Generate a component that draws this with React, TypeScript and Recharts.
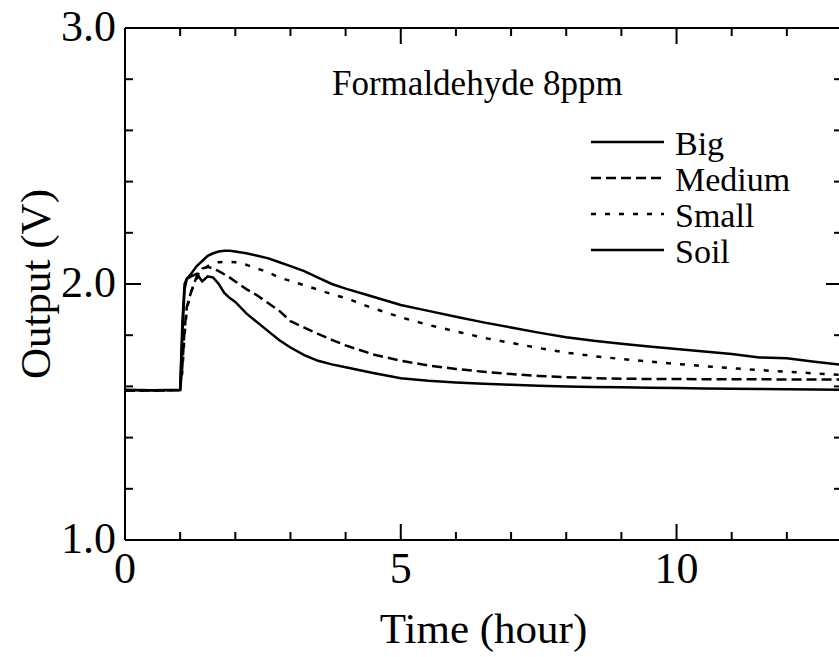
import React from "react";
import { LineChart, Line, XAxis, YAxis, Label, ReferenceLine } from "recharts";

// time in hours, output in volts
const TIME = [
  0, 0.5, 1.0, 1.04, 1.08, 1.12, 1.2, 1.3, 1.4, 1.5, 1.6, 1.7, 1.8, 1.9, 2.0,
  2.2, 2.4, 2.6, 2.8, 3.0, 3.25, 3.5, 3.75, 4.0, 4.5, 5, 5.5, 6, 6.5, 7, 7.5, 8,
  8.5, 9, 9.5, 10, 10.5, 11, 11.5, 12, 12.5, 13,
];
const BIG = [
  1.586, 1.585, 1.587, 1.8, 1.98, 2.02, 2.04, 2.07, 2.09, 2.11, 2.12, 2.127,
  2.13, 2.13, 2.127, 2.12, 2.11, 2.1, 2.085, 2.07, 2.05, 2.025, 2.0, 1.982,
  1.95, 1.918, 1.895, 1.872, 1.85, 1.83, 1.81, 1.792, 1.778, 1.767, 1.756,
  1.746, 1.736, 1.727, 1.713, 1.71, 1.696, 1.684,
];
const MEDIUM = [
  1.583, 1.584, 1.585, 1.68, 1.82, 1.91, 1.97, 2.03, 2.06, 2.067, 2.06, 2.05,
  2.038, 2.025, 2.01, 1.98, 1.955, 1.925, 1.895, 1.855, 1.83, 1.805, 1.782,
  1.76, 1.725, 1.7, 1.682, 1.668, 1.657, 1.648, 1.641, 1.636, 1.632, 1.63,
  1.629, 1.629, 1.628, 1.628, 1.628, 1.627, 1.627, 1.627,
];
const SMALL = [
  1.583, 1.584, 1.585, 1.66, 1.8, 1.9, 1.97, 2.02, 2.05, 2.07, 2.08, 2.085,
  2.087, 2.087, 2.085, 2.075, 2.06, 2.045, 2.025, 2.012, 1.995, 1.978, 1.96,
  1.945, 1.905, 1.87, 1.84, 1.815, 1.79, 1.77, 1.75, 1.732, 1.718, 1.707,
  1.697, 1.688, 1.679, 1.671, 1.664, 1.657, 1.651, 1.645,
];
const SOIL = [
  1.586, 1.585, 1.586, 1.85, 2.0, 2.02, 2.03, 2.04, 2.01, 2.03, 2.025, 2.0,
  1.965, 1.945, 1.93, 1.885, 1.85, 1.815, 1.78, 1.752, 1.722, 1.7, 1.686,
  1.675, 1.652, 1.632, 1.622, 1.615, 1.61, 1.606, 1.603, 1.6, 1.598, 1.597,
  1.595, 1.594, 1.592, 1.591, 1.59, 1.589, 1.588, 1.587,
];

const X_TICKS = [0, 1, 2, 3, 4, 5, 6, 7, 8, 9, 10, 11, 12, 13];
const Y_TICKS = [1, 1.2, 1.4, 1.6, 1.8, 2, 2.2, 2.4, 2.6, 2.8, 3];

const SERIES = [
  { key: "big", name: "Big", dash: undefined },
  { key: "medium", name: "Medium", dash: "10 5" },
  { key: "small", name: "Small", dash: "5 9" },
  { key: "soil", name: "Soil", dash: undefined },
];

const data = TIME.map((t, i) => ({
  t,
  big: BIG[i],
  medium: MEDIUM[i],
  small: SMALL[i],
  soil: SOIL[i],
}));

// plot box: chart 843x657, margin top 28, x axis 117 high, y axis 125 wide, right axis 1 wide
const PLOT_H = 512;
const PLOT_RIGHT = 842;
const Y_MAX = 3;

const FONT = "'Liberation Serif', 'Times New Roman', Times, serif";
const txt = (size: number) => ({ fontFamily: FONT, fontSize: size });
const isMajor = (v: number) => Math.abs(v - Math.round(v)) < 1e-6;

// bottom tick also draws the mirrored tick on the top frame
const BottomTick = ({ x, y, payload }: any) => {
  const major = payload.value % 5 === 0;
  const len = major ? 16 : 8;
  return (
    <g>
      <line x1={x} x2={x} y1={y} y2={y - len} stroke="#000" strokeWidth={2} />
      <line x1={x} x2={x} y1={y - PLOT_H} y2={y - PLOT_H + len} stroke="#000" strokeWidth={2} />
      {major && (
        <text x={x} y={y + 43} textAnchor="middle" style={txt(44)} fill="#000">
          {payload.value}
        </text>
      )}
    </g>
  );
};

// left tick also draws the mirrored tick on the right frame
const LeftTick = ({ x, y, payload }: any) => {
  const major = isMajor(payload.value);
  const len = major ? 16 : 8;
  return (
    <g>
      <line x1={x} x2={x + len} y1={y} y2={y} stroke="#000" strokeWidth={2} />
      <line x1={PLOT_RIGHT} x2={PLOT_RIGHT - len} y1={y} y2={y} stroke="#000" strokeWidth={2} />
      {major && (
        <text x={x - 9} y={y + 13} textAnchor="end" style={txt(44)} fill="#000">
          {payload.value.toFixed(1)}
        </text>
      )}
    </g>
  );
};

// legend drawn as an overlay next to the chart
const LegendBox = () => (
  <svg
    width={220}
    height={150}
    style={{ position: "absolute", left: 588, top: 122, pointerEvents: "none" }}
  >
    {SERIES.map((s, i) => {
      const ly = 20 + i * 36;
      return (
        <g key={s.key}>
          <line
            x1={3}
            x2={76}
            y1={ly}
            y2={ly}
            stroke="#000"
            strokeWidth={2.5}
            strokeDasharray={s.dash}
          />
          <text x={87} y={ly + 13} style={txt(34)} fill="#000">
            {s.name}
          </text>
        </g>
      );
    })}
  </svg>
);

export default function App() {
  return (
    <div
      style={{
        position: "absolute",
        left: 0,
        top: 0,
        width: 839,
        height: 657,
        overflow: "hidden",
      }}
    >
      <LineChart width={843} height={657} data={data} margin={{ top: 28, right: 0, bottom: 0, left: 0 }}>
        <XAxis
          dataKey="t"
          type="number"
          domain={[0, 13]}
          ticks={X_TICKS}
          interval={0}
          height={117}
          axisLine={{ stroke: "#000", strokeWidth: 2 }}
          tickLine={false}
          tickSize={0}
          tickMargin={0}
          tick={BottomTick}
        >
          <Label
            content={({ viewBox }: any) => (
              <g>
                <text
                  x={viewBox.x + viewBox.width / 2}
                  y={643}
                  textAnchor="middle"
                  style={txt(43)}
                  fill="#000"
                >
                  Time (hour)
                </text>
                <text x={332} y={95} style={txt(35)} fill="#000">
                  Formaldehyde 8ppm
                </text>
              </g>
            )}
          />
        </XAxis>
        <YAxis
          type="number"
          domain={[1, Y_MAX]}
          ticks={Y_TICKS}
          interval={0}
          width={125}
          axisLine={{ stroke: "#000", strokeWidth: 2 }}
          tickLine={false}
          tickSize={0}
          tickMargin={0}
          tick={LeftTick}
        >
          <Label
            content={({ viewBox }: any) => {
              const cy = viewBox.y + viewBox.height / 2;
              return (
                <text
                  x={50}
                  y={cy}
                  transform={`rotate(-90, 50, ${cy})`}
                  textAnchor="middle"
                  style={txt(43)}
                  fill="#000"
                >
                  Output (V)
                </text>
              );
            }}
          />
        </YAxis>
        <YAxis
          yAxisId="right"
          orientation="right"
          type="number"
          domain={[1, Y_MAX]}
          width={1}
          axisLine={{ stroke: "#000", strokeWidth: 2 }}
          tickLine={false}
          tick={false}
        />
        {/* top frame line */}
        <ReferenceLine y={Y_MAX} stroke="#000" strokeWidth={2} ifOverflow="visible" />
        {SERIES.map((s) => (
          <Line
            key={s.key}
            dataKey={s.key}
            name={s.name}
            type="linear"
            stroke="#000"
            strokeWidth={2.5}
            strokeDasharray={s.dash}
            dot={false}
            activeDot={false}
            isAnimationActive={false}
          />
        ))}
      </LineChart>
      <LegendBox />
    </div>
  );
}
